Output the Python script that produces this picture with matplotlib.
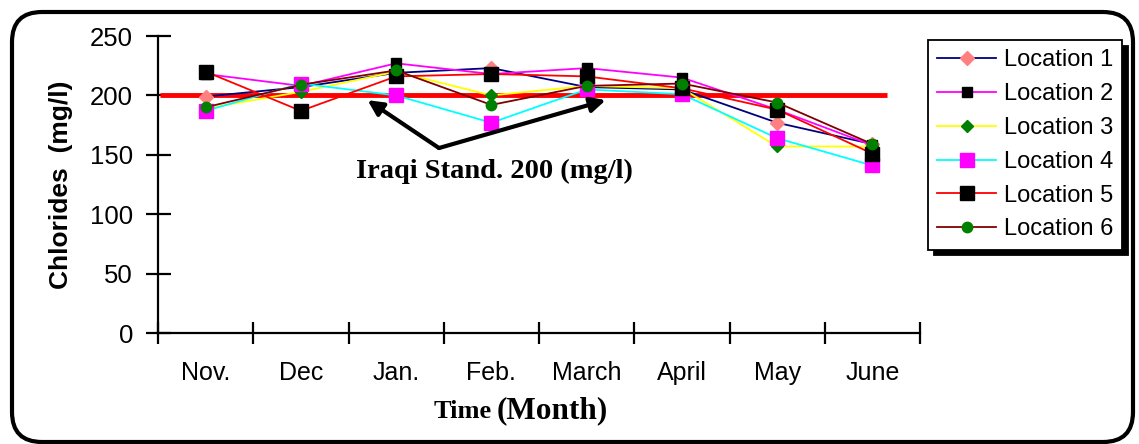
import matplotlib
matplotlib.use("Agg")
import matplotlib.pyplot as plt
from matplotlib.patches import FancyBboxPatch
from matplotlib.transforms import IdentityTransform

months = ['Nov.', 'Dec', 'Jan.', 'Feb.', 'March', 'April', 'May', 'June']
loc1 = [199, 207, 219, 223, 207, 205, 177, 159]
loc2 = [218, 208, 227, 218, 223, 215, 188, 158]
loc3 = [189, 203, 220, 200, 208, 206, 157, 157]
loc4 = [187, 210, 200, 177, 205, 201, 164, 141]
loc5 = [220, 187, 216, 218, 216, 206, 188, 151]
loc6 = [190, 209, 221, 192, 208, 210, 194, 159]
standard = 200
yticks = [0, 50, 100, 150, 200, 250]

plt.rcParams['font.family'] = ['Liberation Sans', 'DejaVu Sans']

fig = plt.figure(figsize=(11.39, 4.44), dpi=100)
W, H = 1139, 444
ax = fig.add_axes([158 / W, 1 - 333 / H, (920 - 158) / W, (333 - 36) / H])

x = list(range(len(months)))
styles = [
    dict(color='#000080', marker='D', mfc='#FF8080', mec='#FF8080', ms=7),
    dict(color='#FF00FF', marker='s', mfc='black', mec='black', ms=6.5),
    dict(color='#FFFF00', marker='D', mfc='#008000', mec='#008000', ms=6),
    dict(color='#00FFFF', marker='s', mfc='#FF00FF', mec='#FF00FF', ms=9.5),
    dict(color='#FF0000', marker='s', mfc='black', mec='black', ms=9.5),
    dict(color='#800000', marker='o', mfc='#008000', mec='#008000', ms=7.5),
]
series = [loc1, loc2, loc3, loc4, loc5, loc6]
handles = []
for i, (vals, st) in enumerate(zip(series, styles)):
    h, = ax.plot(x, vals, lw=1.3, label=f'Location {i+1}', zorder=3 + i, **st)
    handles.append(h)

ax.plot([-0.48, 7.15], [standard, standard], color='#FF0000', lw=3.5, zorder=2.5, solid_capstyle='butt')

ax.set_xlim(-0.5, len(months) - 0.5)
ax.set_ylim(0, 250)
ax.set_yticks(yticks)
ax.set_xticks(x)
ax.set_xticklabels(months)
ax.set_xticks([i - 0.5 for i in range(len(months) + 1)], minor=True)
ax.tick_params(axis='x', which='major', length=0, pad=20, labelsize=18)
ax.tick_params(axis='x', which='minor', direction='inout', length=16, width=1.6)
ax.tick_params(axis='y', direction='inout', length=18, width=1.6, pad=9, labelsize=18.5)
for s in ['top', 'right']:
    ax.spines[s].set_visible(False)
for s in ['left', 'bottom']:
    ax.spines[s].set_linewidth(1.6)

ax.set_ylabel('Chlorides  (mg/l)', fontsize=19, fontweight='bold', labelpad=12)

# annotation arrows
vx, vy = 2.45, 155.7
ax.annotate('', xy=(1.70, 196), xytext=(vx, vy),
            arrowprops=dict(arrowstyle='-|>,head_length=0.9,head_width=0.45', lw=3, color='black',
                            shrinkA=0, shrinkB=0), zorder=10)
ax.annotate('', xy=(4.20, 196), xytext=(vx, vy),
            arrowprops=dict(arrowstyle='-|>,head_length=0.9,head_width=0.45', lw=3, color='black',
                            shrinkA=0, shrinkB=0), zorder=10)
ax.text(3.03, 136, 'Iraqi Stand. 200 (mg/l)', ha='center', va='center', fontsize=20.5,
        fontweight='bold', family='Liberation Serif', zorder=10)

# x label
fig.text(492 / W, 1 - 418 / H, 'Time', ha='right', va='baseline', fontsize=19,
         fontweight='bold', family='Liberation Serif')
fig.text(497 / W, 1 - 418 / H, '(Month)', ha='left', va='baseline', fontsize=22.5,
         fontweight='bold', family='Liberation Serif')

leg = fig.legend(handles=handles, loc='upper left', bbox_to_anchor=(928 / W, 1 - 40 / H),
                 borderaxespad=0, fancybox=False, shadow={'color': 'black', 'alpha': 1, 'ox': 4, 'oy': -4},
                 fontsize=17, handlelength=2.5, handletextpad=0.3, labelspacing=0.5,
                 borderpad=0.4, framealpha=1)
leg.get_frame().set_edgecolor('black')
leg.get_frame().set_linewidth(1.3)

box = FancyBboxPatch((12, 444 - 442), 1133 - 12, 442 - 12,
                     boxstyle='round,pad=0,rounding_size=30', transform=IdentityTransform(),
                     fill=False, edgecolor='black', lw=3)
fig.patches.append(box)

fig.savefig('out.png', dpi=100)
